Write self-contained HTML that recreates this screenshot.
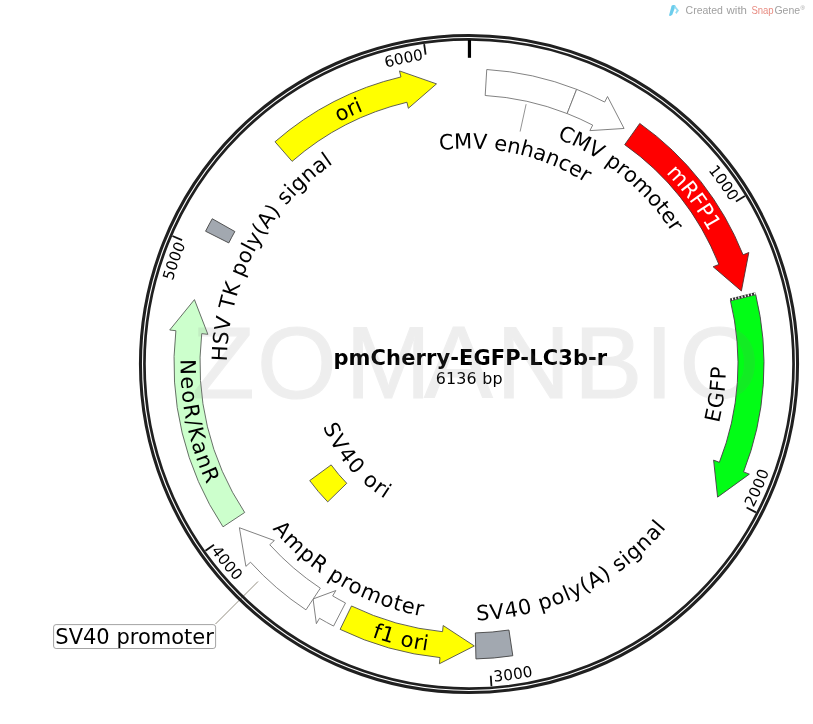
<!DOCTYPE html>
<html><head><meta charset="utf-8"><title>pmCherry-EGFP-LC3b-r</title>
<style>html,body{margin:0;padding:0;background:#fff}svg{display:block;will-change:transform}</style></head>
<body>
<svg width="813" height="724" viewBox="0 0 813 724">
<rect width="813" height="724" fill="#fff"/>
<path d="M486.75 69.53 A295 295 0 0 1 576.64 89.34 L567.15 113.55 A269 269 0 0 0 485.19 95.49 Z" fill="#fff" stroke="#6c6c6c" stroke-width="0.85" stroke-linejoin="miter" />
<path d="M576.64 89.34 A295 295 0 0 1 604.67 102.05 L607.52 96.54 L624.07 128.46 L589.86 130.64 L592.71 125.13 A269 269 0 0 0 567.15 113.55 Z" fill="#fff" stroke="#6c6c6c" stroke-width="0.85" stroke-linejoin="miter" />
<path d="M639.76 123.45 A295 295 0 0 1 743.06 254.83 L748.82 252.53 L741.39 291.01 L713.14 266.75 L718.9 264.45 A269 269 0 0 0 624.71 144.65 Z" fill="#ff0000" stroke="#4c3030" stroke-width="0.9" stroke-linejoin="miter" />
<path d="M755.73 294.63 A295 295 0 0 1 743.57 471.88 L749.34 474.15 L717.6 497.13 L713.6 460.1 L719.37 462.37 A269 269 0 0 0 730.46 300.75 Z" fill="#02fd16" stroke="#483848" stroke-width="0.9" stroke-linejoin="miter" />
<path d="M512.81 655.73 A295 295 0 0 1 475.95 658.92 L475.34 632.93 A269 269 0 0 0 508.95 630.02 Z" fill="#a2a8b0" stroke="#444" stroke-width="0.9" stroke-linejoin="miter" />
<path d="M340.14 629.37 A295 295 0 0 0 440.01 657.57 L439.4 663.74 L474.32 645.95 L443.17 625.53 L442.56 631.7 A269 269 0 0 1 351.5 605.98 Z" fill="#ffff00" stroke="#50504a" stroke-width="0.9" stroke-linejoin="miter" />
<path d="M333.56 626.07 A295 295 0 0 1 319.5 618.31 L316.36 623.66 L313.07 598.97 L335.82 590.55 L332.67 595.9 A269 269 0 0 0 345.5 602.97 Z" fill="#fff" stroke="#6c6c6c" stroke-width="0.85" stroke-linejoin="miter" />
<path d="M305.96 609.85 A295 295 0 0 1 250.5 562.2 L245.9 566.36 L239.39 527.72 L274.35 540.56 L269.76 544.73 A269 269 0 0 0 320.33 588.19 Z" fill="#fff" stroke="#6c6c6c" stroke-width="0.85" stroke-linejoin="miter" />
<path d="M223 526.82 A295 295 0 0 1 175.88 330.71 L169.72 330.01 L194.45 299.61 L207.88 334.34 L201.72 333.64 A269 269 0 0 0 244.68 512.47 Z" fill="#ccffcc" stroke="#586058" stroke-width="0.9" stroke-linejoin="miter" />
<path d="M205.57 231.22 A295 295 0 0 1 212.25 218.74 L234.87 231.54 A269 269 0 0 0 228.79 242.92 Z" fill="#a2a8b0" stroke="#444" stroke-width="0.9" stroke-linejoin="miter" />
<path d="M275 141.77 A295 295 0 0 1 400.93 76.96 L399.5 70.93 L436.49 83.88 L408.36 108.29 L406.93 102.26 A269 269 0 0 0 292.1 161.35 Z" fill="#ffff00" stroke="#50504a" stroke-width="0.9" stroke-linejoin="miter" />
<path d="M327.72 501.87 A197.4 197.4 0 0 1 309.71 480.59 L331.17 464.88 A170.8 170.8 0 0 0 346.76 483.29 Z" fill="#ffff00" stroke="#50504a" stroke-width="0.9" stroke-linejoin="miter" />
<path d="M755.15 292.28 A295 295 0 0 1 755.73 294.63 L730.46 300.75 A269 269 0 0 0 729.93 298.6 Z" fill="#2e2e2e" stroke="none"/>
<line x1="730.77" y1="299.51" x2="755.82" y2="293.34" stroke="#fff" stroke-width="2.2" stroke-dasharray="1.25 2.0" stroke-dashoffset="-1.2"/>
<line x1="526.12" y1="104.21" x2="520.11" y2="131.55" stroke="#777" stroke-width="0.8"/>
<line x1="258" y1="581.5" x2="215.5" y2="624" stroke="#948f82" stroke-width="1"/>
<circle cx="469.0" cy="364.0" r="328.55" fill="none" stroke="#202020" stroke-width="3.05"/>
<circle cx="469.0" cy="364.0" r="324.55" fill="none" stroke="#202020" stroke-width="2.7"/>
<line x1="469.45" y1="40" x2="469.45" y2="57.8" stroke="#000" stroke-width="3.2"/>
<line x1="744.9" y1="196.05" x2="735.93" y2="201.51" stroke="#111" stroke-width="1.8"/>
<line x1="755.92" y1="512.35" x2="746.59" y2="507.52" stroke="#111" stroke-width="1.8"/>
<line x1="491.47" y1="686.22" x2="490.74" y2="675.74" stroke="#111" stroke-width="1.8"/>
<line x1="205.45" y1="550.74" x2="214.02" y2="544.67" stroke="#111" stroke-width="1.8"/>
<line x1="172.46" y1="235.98" x2="182.1" y2="240.14" stroke="#111" stroke-width="1.8"/>
<line x1="424.16" y1="44.13" x2="425.62" y2="54.53" stroke="#111" stroke-width="1.8"/>
<defs><path id="p1" d="M336.98 86.17 A307.6 307.6 0 0 1 688.08 579.92"/><path id="p2" d="M398.47 663.41 A307.6 307.6 0 0 0 637.68 106.77"/><path id="p3" d="M176.58 459.44 A307.6 307.6 0 0 0 776.43 374.33"/><path id="p4" d="M235.43 163.84 A307.6 307.6 0 0 0 620.03 631.97"/><path id="p5" d="M318.63 632.34 A307.6 307.6 0 0 1 518.52 60.41"/><path id="p6" d="M161.6 375.08 A307.6 307.6 0 0 1 754.07 248.45"/><path id="p7" d="M269.9 281.53 A215.5 215.5 0 0 1 684.29 373.4"/><path id="p8" d="M310.87 180.81 A242 242 0 0 1 680.25 482.06"/><path id="p9" d="M346.56 118.43 A274.4 274.4 0 0 1 668.04 552.88"/><path id="p10" d="M481.64 605.27 A241.6 241.6 0 0 0 539.64 132.96"/><path id="p11" d="M273.74 505.6 A241.2 241.2 0 0 0 700.91 297.72"/><path id="p12" d="M195.25 345.1 A274.4 274.4 0 0 0 719.77 475.39"/><path id="p13" d="M242.78 280.32 A241.2 241.2 0 0 0 652.96 520.01"/><path id="p14" d="M357.96 272.79 A143.7 143.7 0 0 0 542.15 487.69"/><path id="p15" d="M366.88 110.6 A273.2 273.2 0 0 0 478.3 637.04"/><path id="p16" d="M319.01 553.92 A242 242 0 0 1 544.99 134.24"/><path id="p17" d="M204.45 436.87 A274.4 274.4 0 0 1 692.67 205.05"/></defs>
<g font-family="'DejaVu Sans', 'Liberation Sans', sans-serif">
<text font-size="15.2" fill="#000" text-anchor="middle"><textPath href="#p1" startOffset="50%">1000</textPath></text>
<text font-size="15.2" fill="#000" text-anchor="middle" dy="11.08"><textPath href="#p2" startOffset="50%">2000</textPath></text>
<text font-size="15.2" fill="#000" text-anchor="middle" dy="11.08"><textPath href="#p3" startOffset="50%">3000</textPath></text>
<text font-size="15.2" fill="#000" text-anchor="middle" dy="11.08"><textPath href="#p4" startOffset="50%">4000</textPath></text>
<text font-size="15.2" fill="#000" text-anchor="middle"><textPath href="#p5" startOffset="50%">5000</textPath></text>
<text font-size="15.2" fill="#000" text-anchor="middle"><textPath href="#p6" startOffset="50%">6000</textPath></text>
<text font-size="21" fill="#000" text-anchor="middle"><textPath href="#p7" startOffset="50%">CMV enhancer</textPath></text>
<text font-size="21" fill="#000" text-anchor="middle"><textPath href="#p8" startOffset="50%">CMV promoter</textPath></text>
<text font-size="21" fill="#fff" text-anchor="middle"><textPath href="#p9" startOffset="50%">mRFP1</textPath></text>
<text font-size="21" fill="#000" text-anchor="middle" dy="15.31"><textPath href="#p10" startOffset="50%">EGFP</textPath></text>
<text font-size="21" fill="#000" text-anchor="middle" dy="15.31"><textPath href="#p11" startOffset="50%">SV40 poly(A) signal</textPath></text>
<text font-size="21" fill="#000" text-anchor="middle" dy="15.31"><textPath href="#p12" startOffset="50%">f1 ori</textPath></text>
<text font-size="21" fill="#000" text-anchor="middle" dy="15.31"><textPath href="#p13" startOffset="50%">AmpR promoter</textPath></text>
<text font-size="21" fill="#000" text-anchor="middle" dy="15.31"><textPath href="#p14" startOffset="50%">SV40 ori</textPath></text>
<text font-size="21" fill="#000" text-anchor="middle" dy="15.31" letter-spacing="0.7"><textPath href="#p15" startOffset="50%">NeoR/KanR</textPath></text>
<text font-size="21" fill="#000" text-anchor="middle" letter-spacing="0.3"><textPath href="#p16" startOffset="50%">HSV TK poly(A) signal</textPath></text>
<text font-size="21" fill="#000" text-anchor="middle"><textPath href="#p17" startOffset="50%">ori</textPath></text>
<rect x="53.6" y="624.6" width="162" height="23.9" rx="2.5" ry="2.5" fill="#fff" stroke="#999" stroke-width="0.9"/>
<text x="134.6" y="644" font-size="21" text-anchor="middle">SV40 promoter</text>
<text x="470.4" y="365.3" font-size="21" font-weight="bold" letter-spacing="0.1" text-anchor="middle">pmCherry-EGFP-LC3b-r</text>
<text x="469.2" y="383.5" font-size="15.9" letter-spacing="0.2" text-anchor="middle" fill="#000">6136 bp</text>
</g>
<path d="M669 15.6 L671.6 5.7 Q672.2 4.7 674.6 5 L675.6 5.9 L672.3 14.8 Q670.6 16.6 669 15.6 Z" fill="#6ccdec"/>
<path d="M674.6 5 L679 10.4 L676.4 14 L675.2 12.6 L676.6 10.3 L674.2 7.4 Z" fill="#93ddf3"/>
<text y="14.2" font-family="'Liberation Sans', sans-serif" font-size="10.5" fill="#a0a0a0"><tspan x="685.6">Created</tspan> <tspan x="726.6" textLength="20.4" lengthAdjust="spacingAndGlyphs">with</tspan> <tspan x="751.4" fill="#e88c82" textLength="22.3" lengthAdjust="spacingAndGlyphs">Snap</tspan><tspan x="774.4">Gene</tspan><tspan x="800.4" y="10" font-size="6">®</tspan></text>
<text x="192.1 256.9 345.6 424.2 496.2 573.9 645.1 679.5" y="398.2" font-family="'Liberation Sans', sans-serif" font-size="102.5" fill="#808080" stroke="#808080" stroke-width="1.2" opacity="0.125">ZOMANBIO</text>
</svg>
</body></html>
